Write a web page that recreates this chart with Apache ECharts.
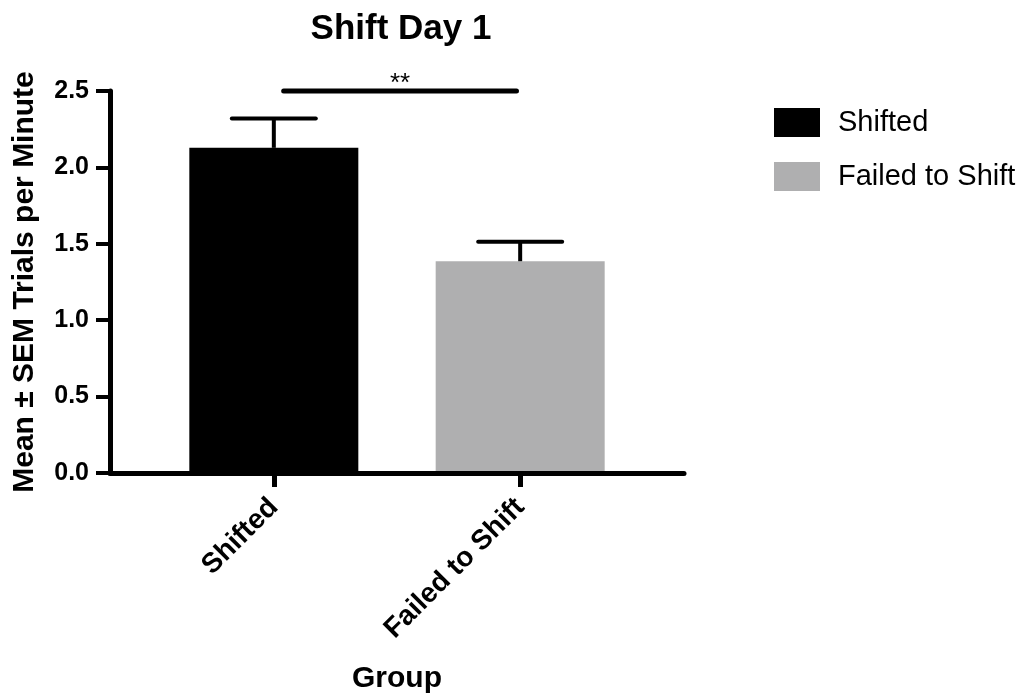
<!DOCTYPE html>
<html><head><meta charset="utf-8">
<script src="https://cdn.jsdelivr.net/npm/echarts@6/dist/echarts.min.js"></script>
<style>html,body{margin:0;padding:0;background:#fff}#c{width:1030px;height:698px}</style>
</head><body><div id="c"></div>
<script>
// ---- data ----
const categories = ['Shifted', 'Failed to Shift'];
const categoryPos = [1, 2];
const means = [2.128, 1.386];
const sems = [0.192, 0.128];
const barColors = ['#000000', '#afafb0'];
const yTickValues = [0, 0.5, 1.0, 1.5, 2.0, 2.5];
const sigBracket = [1.04, 1.985];
const sigLevel = 2.5;
const sigLabel = '**';

const FONT = '"Liberation Sans", Arial, Helvetica, sans-serif';
const chart = echarts.init(document.getElementById('c'), null, {renderer: 'canvas'});

const barSeries = categories.map((name, i) => ({
  type: 'bar',
  name: name,
  data: [[categoryPos[i], means[i]]],
  barWidth: 169,
  barGap: '-100%',
  itemStyle: {color: barColors[i]},
  z: 2
}));

const errSeries = {
  type: 'custom',
  name: 'SEM',
  z: 5,
  data: categories.map((c, i) => [categoryPos[i], means[i], means[i] + sems[i]]),
  renderItem: function (params, api) {
    const x = api.value(0);
    const m = api.coord([x, api.value(1)]);
    const u = api.coord([x, api.value(2)]);
    const half = 42;
    return {
      type: 'group',
      children: [
        {type: 'line', shape: {x1: m[0], y1: m[1], x2: u[0], y2: u[1]}, style: {stroke: '#000', lineWidth: 4}},
        {type: 'line', shape: {x1: u[0] - half, y1: u[1], x2: u[0] + half, y2: u[1]}, style: {stroke: '#000', lineWidth: 4, lineCap: 'round'}}
      ]
    };
  }
};

const sigSeries = {
  type: 'custom',
  name: 'sig',
  z: 5,
  data: [[sigBracket[0], sigBracket[1], sigLevel]],
  renderItem: function (params, api) {
    const a = api.coord([api.value(0), api.value(2)]);
    const b = api.coord([api.value(1), api.value(2)]);
    return {
      type: 'group',
      children: [
        {type: 'line', shape: {x1: a[0], y1: a[1], x2: b[0], y2: b[1]}, style: {stroke: '#000', lineWidth: 5, lineCap: 'round'}},
        {type: 'text', style: {text: sigLabel, x: (a[0] + b[0]) / 2, y: a[1] + 6, align: 'center', verticalAlign: 'bottom', font: '26px ' + FONT, fill: '#000'}}
      ]
    };
  }
};

chart.setOption({
  backgroundColor: '#fff',
  animation: false,
  title: {
    text: 'Shift Day 1',
    left: 396, top: 7, textAlign: 'center',
    textStyle: {fontFamily: FONT, fontSize: 35, fontWeight: 'bold', color: '#000'}
  },
  legend: {
    orient: 'vertical',
    left: 769, top: 103,
    icon: 'rect',
    itemWidth: 46, itemHeight: 29, itemGap: 25,
    data: categories,
    textStyle: {fontFamily: FONT, fontSize: 29, color: '#000', padding: [0, 0, 0, 13]}
  },
  grid: {left: 110, right: 346, top: 91, bottom: 225, containLabel: false, outerBoundsMode: 'none'},
  xAxis: {
    type: 'value',
    min: 0.335, max: 2.665,
    z: 10,
    name: 'Group', nameLocation: 'middle', nameGap: 191,
    nameTextStyle: {fontFamily: FONT, fontSize: 30, fontWeight: 'bold', color: '#000'},
    splitLine: {show: false},
    axisLine: {show: true, lineStyle: {color: '#000', width: 5}},
    axisTick: {show: true, customValues: categoryPos, length: 14, lineStyle: {color: '#000', width: 5}},
    axisLabel: {
      customValues: categoryPos,
      rotate: 45, margin: 30,
      fontFamily: FONT, fontSize: 28, fontWeight: 'bold', color: '#000',
      formatter: v => categories[categoryPos.indexOf(v)] || ''
    }
  },
  yAxis: {
    type: 'value',
    min: 0, max: 2.5, interval: 0.5,
    z: 10,
    name: 'Mean \u00b1 SEM Trials per Minute', nameLocation: 'middle', nameGap: 70,
    nameTextStyle: {fontFamily: FONT, fontSize: 30, fontWeight: 'bold', color: '#000'},
    splitLine: {show: false},
    axisLine: {show: true, lineStyle: {color: '#000', width: 5}},
    axisTick: {show: true, length: 14, lineStyle: {color: '#000', width: 4}},
    axisLabel: {
      margin: 21,
      fontFamily: FONT, fontSize: 25, fontWeight: 'bold', color: '#000',
      formatter: v => v.toFixed(1)
    }
  },
  series: barSeries.concat([errSeries, sigSeries])
});
</script></body></html>
